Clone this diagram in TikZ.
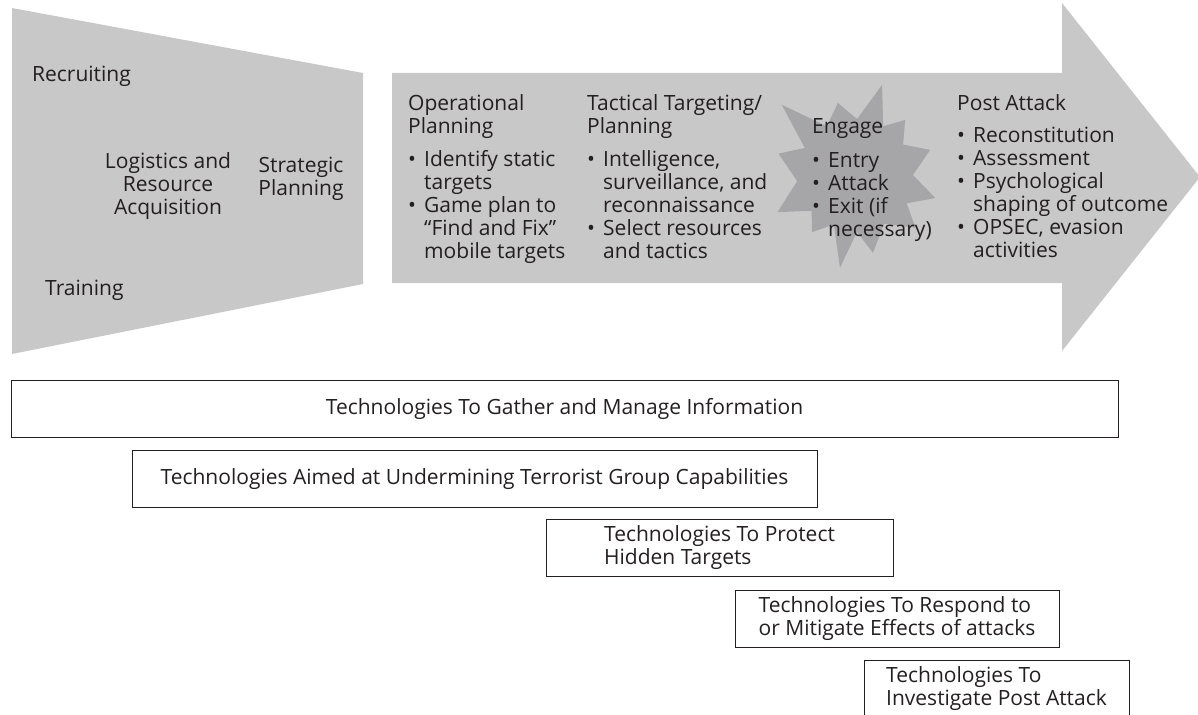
\documentclass[tikz,border=0pt]{standalone}
\usepackage{fontspec}
\setmainfont{Open Sans}
\usetikzlibrary{positioning}

\definecolor{lightgrey}{RGB}{200,200,201}
\definecolor{stargrey}{RGB}{166,166,168}
\definecolor{txtgrey}{RGB}{35,31,32}
\newcommand{\bul}{\makebox[16pt][l]{\textbullet}}
\newcommand{\ind}{\hspace*{16pt}}

\begin{document}
\begin{tikzpicture}[x=1pt, y=-1pt,
  every node/.style={font=\fontsize{21}{23}\selectfont, text=txtgrey, inner sep=0pt},
  lab/.style={align=left, anchor=base west},
  midlab/.style={align=center, anchor=base},
  techbox/.style={draw=txtgrey, line width=0.9pt, minimum height=57pt, align=left}]
\useasboundingbox (0,0) rectangle (1198,714);
% funnel and arrow
\fill[lightgrey] (12,8) -- (363,73) -- (363,284) -- (12,354) -- cycle;
\fill[lightgrey] (392,73) -- (1062,73) -- (1062,3) -- (1200,177) -- (1062,351) -- (1062,283) -- (392,283) -- cycle;
% burst behind Engage
\fill[stargrey, shift={(855,177)}] (73.6:96pt) -- (61:58pt) -- (48.7:76pt) -- (34:58pt) -- (19.8:80pt) -- (2:58pt)
  -- (-14.7:83pt) -- (-27:58pt) -- (-40:79pt) -- (-58:55pt) -- (-76.7:78pt) -- (-88:55pt) -- (-99.4:92pt)
  -- (-114:52pt) -- (-128:70pt) -- (-142:55pt) -- (-155.6:85pt) -- (-176:58pt) -- (163:80pt) -- (150:58pt)
  -- (135.4:103pt) -- (119:58pt) -- (103:76pt) -- (88:58pt) -- cycle;

% funnel labels (base = last line)
\node[lab] (recruit) at (32,82) {Recruiting};
\node[midlab] (logist) at (168,214) {Logistics and\\Resource\\Acquisition};
\node[midlab] (strat) at (301,195) {Strategic\\Planning};
\node[lab] (train) at (45,295) {Training};

% arrow labels
\node[lab] (oper) at (408,258) {Operational\\Planning\\[10pt]\bul Identify static\\\ind targets\\\bul Game plan to\\\ind ``Find and Fix''\\\ind mobile targets};
\node[lab] (tact) at (587,258) {Tactical Targeting/\\Planning\\[10pt]\bul Intelligence,\\\ind surveillance, and\\\ind reconnaissance\\\bul Select resources\\\ind and tactics};
\node[lab] (engage) at (812,236) {Engage\\[11pt]\bul Entry\\\bul Attack\\\bul Exit (if\\\ind necessary)};
\node[lab] (post) at (957,257) {Post Attack\\[9pt]\bul Reconstitution\\\bul Assessment\\\bul Psychological\\\ind shaping of outcome\\\bul OPSEC, evasion\\\ind activities};

% technology boxes
\node[techbox, minimum width=1107pt] (gather) at (564.5,408.5) {Technologies To Gather and Manage Information};
\node[techbox, minimum width=685pt] (undermine) at (474.5,479) {Technologies Aimed at Undermining Terrorist Group Capabilities};
\node[techbox, minimum width=347pt] (protect) at (719.5,547.5) {Technologies To Protect\\Hidden Targets};
\node[techbox, minimum width=324pt] (respond) at (897,619) {Technologies To Respond to\\or Mitigate Effects of attacks};
\node[techbox, minimum width=265pt] (investigate) at (996.5,688.5) {Technologies To\\Investigate Post Attack};
\end{tikzpicture}
\end{document}
